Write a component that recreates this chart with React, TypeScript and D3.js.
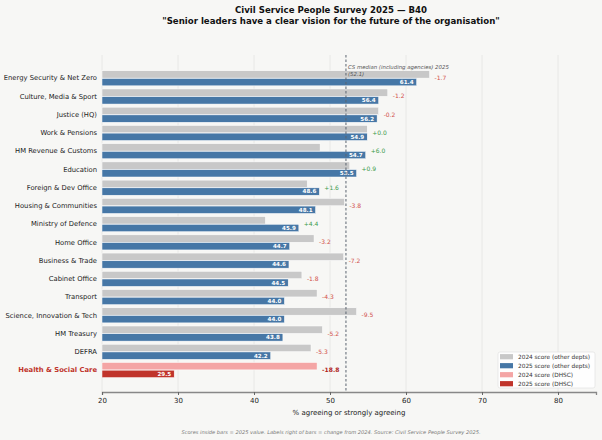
import { useEffect, useRef } from 'react';
import * as d3 from 'd3';

const departments = [
  'Energy Security & Net Zero',
  'Culture, Media & Sport',
  'Justice (HQ)',
  'Work & Pensions',
  'HM Revenue & Customs',
  'Education',
  'Foreign & Dev Office',
  'Housing & Communities',
  'Ministry of Defence',
  'Home Office',
  'Business & Trade',
  'Cabinet Office',
  'Transport',
  'Science, Innovation & Tech',
  'HM Treasury',
  'DEFRA',
  'Health & Social Care',
];

const scores2025 = [61.4, 56.4, 56.2, 54.9, 54.7, 53.5, 48.6, 48.1, 45.9, 44.7, 44.6, 44.5, 44.0, 44.0, 43.8, 42.2, 29.5];
const scores2024 = [63.1, 57.6, 56.4, 54.9, 48.7, 52.6, 47.0, 51.9, 41.5, 47.9, 51.8, 46.3, 48.3, 53.5, 49.0, 47.5, 48.3];

const xTicks = [20, 30, 40, 50, 60, 70, 80];
const medianValue = 52.1;
const highlight = 'Health & Social Care';

const legendItems = [
  { label: '2024 score (other depts)', color: '#c8c8c8' },
  { label: '2025 score (other depts)', color: '#4677a6' },
  { label: '2024 score (DHSC)', color: '#f4a5a5' },
  { label: '2025 score (DHSC)', color: '#c0342b' },
];

const W = 602;
const H = 440;
const FONT = 'DejaVu Sans, sans-serif';

const Chart = () => {
  const svgRef = useRef<SVGSVGElement>(null);

  useEffect(() => {
    if (!svgRef.current) return;
    const svg = d3.select(svgRef.current);
    svg.selectAll('*').remove();

    const left = 102, right = 596, top = 55, bottom = 392;

    svg.append('rect').attr('width', W).attr('height', H).attr('fill', '#f7f7f5');

    const x = d3.scaleLinear().domain([20, 85]).range([left, right]);
    const y = d3.scaleBand<string>().domain(departments).range([69, 379]);
    const barH = 7.4;

    // gridlines
    svg.append('g')
      .selectAll('line')
      .data(xTicks)
      .join('line')
      .attr('x1', d => x(d)).attr('x2', d => x(d))
      .attr('y1', top).attr('y2', bottom)
      .attr('stroke', '#e4e4e2').attr('stroke-width', 0.8);

    // titles
    const title = svg.append('text')
      .attr('x', 331).attr('text-anchor', 'middle')
      .style('font-family', FONT).style('font-weight', 'bold').attr('fill', '#111');
    title.append('tspan').attr('x', 331).attr('y', 13).style('font-size', '8.6px')
      .text('Civil Service People Survey 2025 \u2014 B40');
    title.append('tspan').attr('x', 331).attr('y', 24).style('font-size', '8.6px')
      .text('"Senior leaders have a clear vision for the future of the organisation"');

    const rows = departments.map((name, i) => ({
      name,
      v24: scores2024[i],
      v25: scores2025[i],
      hl: name === highlight,
    }));

    const g = svg.append('g');

    // 2024 bars
    g.selectAll('rect.b24')
      .data(rows)
      .join('rect')
      .attr('class', 'b24')
      .attr('x', x(20))
      .attr('y', d => y(d.name)! + y.bandwidth() / 2 - barH)
      .attr('width', d => x(d.v24) - x(20))
      .attr('height', barH)
      .attr('fill', d => (d.hl ? '#f4a5a5' : '#c8c8c8'))
      .attr('stroke', 'white').attr('stroke-width', 0.5);

    // 2025 bars
    g.selectAll('rect.b25')
      .data(rows)
      .join('rect')
      .attr('class', 'b25')
      .attr('x', x(20))
      .attr('y', d => y(d.name)! + y.bandwidth() / 2 + 0.3)
      .attr('width', d => x(d.v25) - x(20))
      .attr('height', barH)
      .attr('fill', d => (d.hl ? '#c0342b' : '#4677a6'))
      .attr('stroke', 'white').attr('stroke-width', 0.5);

    // values inside 2025 bars
    g.selectAll('text.val')
      .data(rows)
      .join('text')
      .attr('class', 'val')
      .attr('x', d => x(d.v25) - 3)
      .attr('y', d => y(d.name)! + y.bandwidth() / 2 + barH / 2 + 0.3)
      .attr('dy', '0.35em')
      .attr('text-anchor', 'end')
      .attr('fill', 'white')
      .style('font-family', FONT).style('font-size', '5.6px').style('font-weight', 'bold')
      .text(d => d.v25.toFixed(1));

    // change labels
    g.selectAll('text.chg')
      .data(rows)
      .join('text')
      .attr('class', 'chg')
      .attr('x', d => x(Math.max(d.v24, d.v25)) + 5)
      .attr('y', d => y(d.name)! + y.bandwidth() / 2)
      .attr('dy', '0.35em')
      .attr('fill', d => {
        const c = +(d.v25 - d.v24).toFixed(1);
        if (d.hl) return '#b0251c';
        return c >= 0 ? '#3c9a4a' : '#d2504a';
      })
      .style('font-family', FONT).style('font-size', '6px')
      .style('font-weight', d => (d.hl ? 'bold' : 'normal'))
      .text(d => {
        const c = +(d.v25 - d.v24).toFixed(1);
        return (c >= 0 ? '+' : '') + c.toFixed(1);
      });

    // category labels
    g.selectAll('text.cat')
      .data(rows)
      .join('text')
      .attr('class', 'cat')
      .attr('x', left - 5)
      .attr('y', d => y(d.name)! + y.bandwidth() / 2)
      .attr('dy', '0.35em')
      .attr('text-anchor', 'end')
      .attr('fill', d => (d.hl ? '#c0342b' : '#222'))
      .style('font-family', FONT).style('font-size', '6.8px')
      .style('font-weight', d => (d.hl ? 'bold' : 'normal'))
      .text(d => d.name);

    // median line
    svg.append('line')
      .attr('x1', x(medianValue)).attr('x2', x(medianValue))
      .attr('y1', top).attr('y2', bottom)
      .attr('stroke', '#5b6470').attr('stroke-width', 1)
      .attr('stroke-dasharray', '2.5,2');
    const med = svg.append('text')
      .attr('fill', '#555')
      .style('font-family', FONT).style('font-size', '5.4px').style('font-style', 'italic');
    med.append('tspan').attr('x', x(medianValue) + 2).attr('y', 69)
      .text('CS median (including agencies) 2025');
    med.append('tspan').attr('x', x(medianValue) + 2).attr('y', 76)
      .text(`(${medianValue.toFixed(1)})`);

    // x axis
    const axis = svg.append('g')
      .attr('transform', `translate(0,${bottom})`)
      .call(d3.axisBottom(x).tickValues(xTicks).tickSize(3).tickPadding(3).tickFormat(d3.format('d')));
    axis.select('.domain').attr('stroke', '#888').attr('stroke-width', 1.3);
    axis.selectAll('.tick line').attr('stroke', '#666');
    axis.selectAll('.tick text')
      .attr('fill', '#222')
      .style('font-family', FONT).style('font-size', '7px');

    svg.append('text')
      .attr('x', (left + right) / 2).attr('y', 415)
      .attr('text-anchor', 'middle').attr('fill', '#222')
      .style('font-family', FONT).style('font-size', '7px')
      .text('% agreeing or strongly agreeing');

    svg.append('text')
      .attr('x', 331).attr('y', 434)
      .attr('text-anchor', 'middle').attr('fill', '#777')
      .style('font-family', FONT).style('font-size', '5.1px').style('font-style', 'italic')
      .text('Scores inside bars = 2025 value.  Labels right of bars = change from 2024.  Source: Civil Service People Survey 2025.');

    // legend
    const lg = svg.append('g').attr('transform', 'translate(498,352)');
    lg.append('rect').attr('width', 97).attr('height', 36).attr('rx', 2)
      .attr('fill', 'white').attr('fill-opacity', 0.85).attr('stroke', '#ddd').attr('stroke-width', 0.6);
    const items = lg.selectAll('g.item')
      .data(legendItems)
      .join('g')
      .attr('class', 'item')
      .attr('transform', (_, i) => `translate(2,${4.7 + i * 9})`);
    items.append('rect').attr('width', 13).attr('height', 5.2).attr('y', -2.6).attr('fill', d => d.color);
    items.append('text')
      .attr('x', 18).attr('dy', '0.35em').attr('fill', '#333')
      .style('font-family', FONT).style('font-size', '5.8px')
      .text(d => d.label);
  }, []);

  return <svg ref={svgRef} width={W} height={H} style={{ display: 'block' }} />;
};

export default function App() {
  return (
    <div style={{ position: 'absolute', left: 0, top: 0 }}>
      <Chart />
    </div>
  );
}
